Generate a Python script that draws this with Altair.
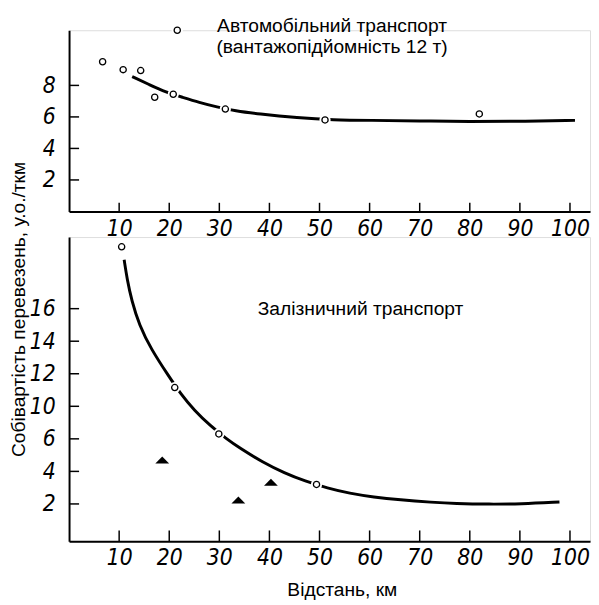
import altair as alt
import pandas as pd

# ---------------- data ----------------
x_tick_values = [10, 20, 30, 40, 50, 60, 70, 80, 90, 100]
top_y_tick_values = [2, 4, 6, 8]
bot_y_tick_values = [2, 4, 6, 8, 10, 12, 14]

# Автомобільний транспорт: fitted curve and observed points
auto_curve_x = [12.6, 16.0, 19.4, 22.6, 26.0, 29.5, 33.2, 37.7, 45.6, 52.8, 60.0, 70.0, 80.0, 90.0, 101.0]
auto_curve_y = [8.56, 8.05, 7.56, 7.25, 6.92, 6.63, 6.38, 6.19, 5.94, 5.81, 5.78, 5.75, 5.70, 5.72, 5.78]
auto_pts_x = [6.7, 10.8, 14.3, 21.6, 17.1, 20.8, 31.2, 51.1, 81.9]
auto_pts_y = [9.5, 9.0, 8.94, 11.5, 7.25, 7.44, 6.5, 5.81, 6.19]

# Залізничний транспорт: fitted curve, open circles, filled triangles
rail_curve_x = [11.0, 11.6, 12.5, 14.0, 16.4, 19.8, 22.3, 25.0, 28.2, 31.5, 34.0, 38.7, 43.0, 47.1,
                51.6, 56.0, 60.8, 66.0, 72.5, 77.0, 84.0, 90.1, 97.9]
rail_curve_y = [17.0, 15.8, 14.5, 13.0, 11.5, 9.9, 8.75, 7.75, 6.8, 5.98, 5.45, 4.55, 3.9, 3.4,
                2.97, 2.65, 2.42, 2.25, 2.1, 2.02, 1.98, 2.0, 2.12]
rail_pts_x = [10.5, 21.1, 29.9, 49.4]
rail_pts_y = [17.8, 9.15, 6.3, 3.2]
rail_tri_x = [18.6, 33.8, 40.3]
rail_tri_y = [4.7, 2.24, 3.33]

auto_label = ["Автомобільний транспорт", "(вантажопідйомність 12 т)"]
auto_label_xy = [52.5, 11.4]
rail_label = "Залізничний транспорт"
rail_label_xy = [58.2, 13.6]

# ---------------- styling ----------------
NUM_FONT = "Liberation Sans Narrow, DejaVu Sans Condensed, sans-serif"
TXT_FONT = "Liberation Sans, Arial, sans-serif"
TXT_SIZE = 19.5
W = 529

xscale = alt.Scale(domain=[0, 104], nice=False, zero=False)
top_yscale = alt.Scale(domain=[0, 11.5], nice=False, zero=False)
bot_yscale = alt.Scale(domain=[-0.3, 18.4], nice=False, zero=False)


def x_axis(title=None, **kw):
    args = dict(values=x_tick_values, ticks=False, grid=False, labelFont=NUM_FONT,
                labelFontSize=23, labelFontStyle="italic", labelColor="black",
                labelPadding=6, domainColor="black", domainWidth=2, labelFlush=False)
    args.update(kw)
    if title is None:
        return alt.Axis(title=None, **args)
    return alt.Axis(title=title, **args)


def y_axis(values, title=None, **kw):
    args = dict(values=values, ticks=False, grid=False, labelFont=NUM_FONT,
                labelFontSize=23, labelFontStyle="italic", labelColor="black",
                labelPadding=14, domainColor="black", domainWidth=2)
    args.update(kw)
    if title is None:
        return alt.Axis(title=None, **args)
    return alt.Axis(title=title, **args)


def panel(curve_x, curve_y, pts_x, pts_y, yscale, xax, yax, tick_len_y, tick_len_x, y_ticks):
    curve = pd.DataFrame({"x": curve_x, "y": curve_y})
    pts = pd.DataFrame({"x": pts_x, "y": pts_y})
    xt = pd.DataFrame({"t": x_tick_values})
    yt = pd.DataFrame({"t": y_ticks})

    line = alt.Chart(curve).mark_line(color="black", strokeWidth=3, interpolate="basis").encode(
        x=alt.X("x:Q", scale=xscale, axis=xax),
        y=alt.Y("y:Q", scale=yscale, axis=yax),
    )
    halo = alt.Chart(pts).mark_point(shape="circle", filled=True, color="white", opacity=1, size=130).encode(
        x="x:Q", y="y:Q")
    circ = alt.Chart(pts).mark_point(shape="circle", filled=True, fill="white", stroke="black",
                                     strokeWidth=1.3, opacity=1, size=40).encode(x="x:Q", y="y:Q")
    xticks = alt.Chart(xt).mark_rule(color="black", strokeWidth=1.5).encode(
        x="t:Q", y=alt.datum(yscale.domain[0]), y2=alt.datum(yscale.domain[0] + tick_len_y))
    yticks = alt.Chart(yt).mark_rule(color="black", strokeWidth=1.5).encode(
        y="t:Q", x=alt.datum(0), x2=alt.datum(tick_len_x))
    return [line, halo, circ, xticks, yticks]


top_layers = panel(auto_curve_x, auto_curve_y, auto_pts_x, auto_pts_y, top_yscale,
                   x_axis(), y_axis(top_y_tick_values), 0.55, 2.0, top_y_tick_values)
top_text = alt.Chart(pd.DataFrame({"x": [auto_label_xy[0]]})).mark_text(
    font=TXT_FONT, fontSize=TXT_SIZE, fontStyle="normal", color="black", align="center",
    baseline="alphabetic", lineHeight=21
).encode(x="x:Q", y=alt.datum(auto_label_xy[1]), text=alt.value(auto_label))
top = alt.layer(*top_layers, top_text).properties(width=W, height=184)

bot_layers = panel(rail_curve_x, rail_curve_y, rail_pts_x, rail_pts_y, bot_yscale,
                   x_axis("Відстань, км", titleFont=TXT_FONT, titleFontSize=TXT_SIZE, titleFontWeight="normal",
                          titleFontStyle="normal", titleColor="black", titleX=277, titleY=55,
                          titleBaseline="alphabetic", titleAlign="center"),
                   y_axis(bot_y_tick_values, "Собівартість перевезень, у.о./ткм",
                          labelExpr="datum.value >= 8 ? '' + (datum.value + 2) : datum.label",
                          titleFont=TXT_FONT, titleFontSize=TXT_SIZE, titleFontWeight="normal",
                          titleFontStyle="normal", titleColor="black", titleX=-51, titleY=73,
                          titleBaseline="middle", titleAlign="center", titleAngle=270),
                   0.67, 2.0, bot_y_tick_values)
tri = alt.Chart(pd.DataFrame({"x": rail_tri_x, "y": rail_tri_y})).mark_point(
    shape="M-1,0.5L1,0.5L0,-0.5Z", filled=True, color="black", opacity=1, size=196
).encode(x="x:Q", y="y:Q")
bot_text = alt.Chart(pd.DataFrame({"x": [rail_label_xy[0]]})).mark_text(
    font=TXT_FONT, fontSize=TXT_SIZE, fontStyle="normal", color="black", align="center",
    baseline="alphabetic"
).encode(x="x:Q", y=alt.datum(rail_label_xy[1]), text=alt.value(rail_label))
bot = alt.layer(*bot_layers, tri, bot_text).properties(width=W, height=309)

chart = alt.vconcat(top, bot, spacing=26, bounds="flush").resolve_scale(y="independent").properties(
    padding={"left": 0, "top": 3, "right": 0, "bottom": 0}
).configure_view(stroke=None).configure(background="white")

chart.save("out.html", embed_options={"renderer": "svg", "actions": False})
